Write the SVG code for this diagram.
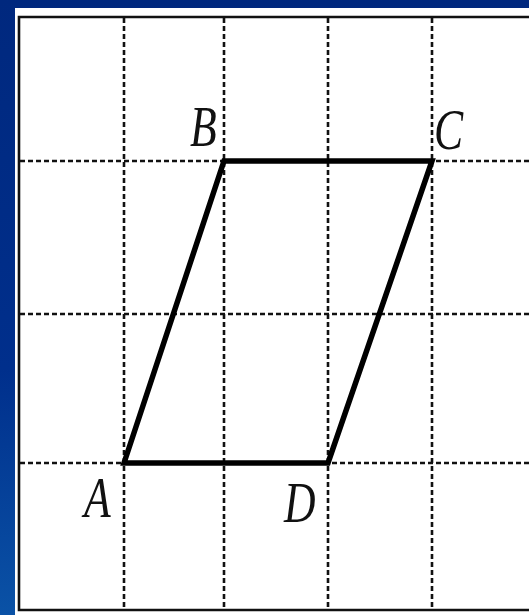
<svg xmlns="http://www.w3.org/2000/svg" width="529" height="615" viewBox="0 0 529 615">
<defs>
<linearGradient id="bg" x1="0" y1="0" x2="0" y2="1">
<stop offset="0" stop-color="#00287e"/>
<stop offset="0.6" stop-color="#002f8c"/>
<stop offset="1" stop-color="#0a52a6"/>
</linearGradient>
</defs>
<style>
.grid{stroke:#111;stroke-width:2.6;stroke-dasharray:5 3;fill:none}
.frame{stroke:#111;stroke-width:2.6;fill:none}
.shape{stroke:#000;stroke-width:5.5;fill:none;stroke-linejoin:miter}
.lbl{font-family:"Liberation Serif","Times New Roman",serif;font-style:italic;font-size:56px;fill:#111}
</style>
<rect x="0" y="0" width="529" height="615" fill="url(#bg)"/>
<rect x="15" y="8" width="514" height="607" fill="#fff"/>
<g id="frame">
<path class="frame" d="M529 17 H19 V610 H529"/>
</g>
<g id="grid">
<line class="grid" x1="124" y1="18" x2="124" y2="609"/>
<line class="grid" x1="224" y1="18" x2="224" y2="609"/>
<line class="grid" x1="328" y1="18" x2="328" y2="609"/>
<line class="grid" x1="432" y1="18" x2="432" y2="609"/>
<line class="grid" x1="20" y1="161" x2="529" y2="161"/>
<line class="grid" x1="20" y1="314" x2="529" y2="314"/>
<line class="grid" x1="20" y1="463" x2="529" y2="463"/>
</g>
<g id="connectors">
<polygon class="shape" points="124,463 224,161 432,161 328,463"/>
</g>
<g id="B"><text class="lbl" transform="translate(190,146) scale(0.78,1)">B</text></g>
<g id="C"><text class="lbl" transform="translate(434,149) scale(0.78,1)">C</text></g>
<g id="A"><text class="lbl" transform="translate(84,517) scale(0.78,1)">A</text></g>
<g id="D"><text class="lbl" transform="translate(284,522) scale(0.78,1)">D</text></g>
</svg>
